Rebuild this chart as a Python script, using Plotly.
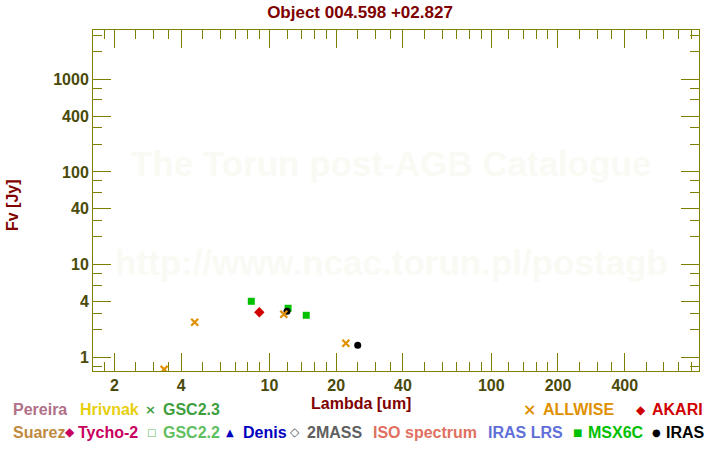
import math
import plotly.graph_objects as go

# ---- data ----
allwise_wl = [3.35, 4.6, 11.6, 22.1]
allwise_f = [0.74, 2.39, 2.91, 1.42]
msx_wl = [8.28, 12.13, 14.65]
msx_f = [4.02, 3.38, 2.84]
akari_wl = [9.0]
akari_f = [3.06]
iras_wl = [12.0, 25.0]
iras_f = [3.14, 1.35]

x_major = [2, 4, 10, 20, 40, 100, 200, 400]
x_major_labels = ["2", "4", "10", "20", "40", "100", "200", "400"]
y_major = [1, 4, 10, 40, 100, 400, 1000]
y_major_labels = ["1", "4", "10", "40", "100", "400", "1000"]

x_minor_pattern = [1.2, 1.4, 1.6, 1.8, 2.5, 3, 3.5, 5, 6, 7, 8, 9]
y_minor_pattern = [2, 3, 6, 8]

legend_row1 = [("Pereira", "#b07088"), ("Hrivnak", "#e6cf10"), ("GSC2.3", "#40a040"),
               ("ALLWISE", "#e09000"), ("AKARI", "#d00000")]
legend_row2 = [("Suarez", "#c08a40"), ("Tycho-2", "#c80060"), ("GSC2.2", "#60c060"),
               ("Denis", "#0000c0"), ("2MASS", "#606060"), ("ISO spectrum", "#e07060"),
               ("IRAS LRS", "#6070d8"), ("MSX6C", "#00c000"), ("IRAS", "#000000")]

W, H = 720, 450
L, R, T, B = 93, 699, 30, 371

x_minor = [m * 10 ** k for k in range(0, 3) for m in x_minor_pattern]
y_minor = [m * 10 ** k for k in range(-1, 4) for m in y_minor_pattern]

fig = go.Figure()
fig.add_trace(go.Scatter(x=msx_wl, y=msx_f, mode="markers", name="MSX6C",
                         marker=dict(symbol="square", size=7, color="#00c000", line=dict(width=0))))
fig.add_trace(go.Scatter(x=iras_wl, y=iras_f, mode="markers", name="IRAS",
                         marker=dict(symbol="circle", size=7, color="#000000", line=dict(width=0))))
fig.add_trace(go.Scatter(x=allwise_wl, y=allwise_f, mode="markers", name="ALLWISE",
                         marker=dict(symbol="x-thin", size=7, color="#e09000",
                                     line=dict(width=2.2, color="#e09000"))))
fig.add_trace(go.Scatter(x=akari_wl, y=akari_f, mode="markers", name="AKARI",
                         marker=dict(symbol="diamond", size=8, color="#d00000", line=dict(width=0))))

olive = "#808000"
tickfont = dict(family="Liberation Sans, Arial, sans-serif", size=16, color="#4a4a0a", weight="bold")

axis_common = dict(type="log", showgrid=False, zeroline=False, showline=True,
                   linecolor=olive, linewidth=1, mirror="allticks", ticks="inside",
                   ticklen=18, tickcolor=olive, tickwidth=1, tickfont=tickfont)

fig.update_xaxes(**axis_common, range=[math.log10(1.6), math.log10(865)],
                 tickmode="array", tickvals=x_major, ticktext=x_major_labels,
                 minor=dict(tickmode="array", tickvals=x_minor, ticks="inside",
                            ticklen=9, tickcolor=olive, tickwidth=1, showgrid=False))
fig.update_yaxes(**axis_common, range=[-0.148, 3.532],
                 tickmode="array", tickvals=y_major, ticktext=y_major_labels,
                 minor=dict(tickmode="array", tickvals=y_minor, ticks="inside",
                            ticklen=9, tickcolor=olive, tickwidth=1, showgrid=False))


def px(x):
    return (x - L) / (R - L)


def py(y):
    return (B - y) / (B - T)


bold = "Liberation Sans, Arial, sans-serif"
ann = []
# watermark
ann.append(dict(text="<b>The Torun post-AGB Catalogue</b>", x=px(391), y=py(163),
                font=dict(family=bold, size=35, color="#fafaf5")))
ann.append(dict(text="<b>http://www.ncac.torun.pl/postagb</b>", x=px(391), y=py(262),
                font=dict(family=bold, size=35, color="#fafaf5")))
# axis titles
ann.append(dict(text="<b>Lambda [um]</b>", x=px(361), y=py(404),
                font=dict(family=bold, size=16, color="#800000")))
ann.append(dict(text="<b>Fv [Jy]</b>", x=px(12), y=py(205), textangle=-90,
                font=dict(family=bold, size=16, color="#800000")))

# legend texts (left x positions in pixels)
row1_x = [11, 78, 161, 541, 650]
row2_x = [11, 76, 161, 241, 305, 371, 486, 586, 664]
for (name, col), xx in zip(legend_row1, row1_x):
    ann.append(dict(text="<b>%s</b>" % name, x=px(xx), y=py(410), xanchor="left",
                    font=dict(family=bold, size=16, color=col)))
for (name, col), xx in zip(legend_row2, row2_x):
    ann.append(dict(text="<b>%s</b>" % name, x=px(xx), y=py(432), xanchor="left",
                    font=dict(family=bold, size=16, color=col)))

# legend symbols
sym1 = [("\u00d7", "#40a040", 150, 13), ("\u00d7", "#e09000", 529, 16), ("\u25c6", "#d00000", 641, 12)]
sym2 = [("\u25c6", "#c80060", 70, 12), ("\u25a1", "#60c060", 151, 10), ("\u25b2", "#0000c0", 230, 10),
        ("\u25c7", "#606060", 295, 12), ("\u25a0", "#00c000", 577, 10), ("\u25cf", "#000000", 656, 10)]
for s, col, xx, sz in sym1:
    ann.append(dict(text="<b>%s</b>" % s, x=px(xx), y=py(410),
                    font=dict(family="DejaVu Sans", size=sz, color=col)))
for s, col, xx, sz in sym2:
    ann.append(dict(text="<b>%s</b>" % s, x=px(xx), y=py(432),
                    font=dict(family="DejaVu Sans", size=sz, color=col)))

for a in ann:
    a.setdefault("xref", "paper")
    a.setdefault("yref", "paper")
    a.setdefault("showarrow", False)
    a.setdefault("xanchor", "center")
    a.setdefault("yanchor", "middle")

fig.update_layout(
    width=W, height=H,
    margin=dict(l=L, r=W - R, t=T, b=H - B, pad=0),
    paper_bgcolor="white", plot_bgcolor="white",
    showlegend=False,
    title=dict(text="<b>Object 004.598 +02.827</b>", x=0.5, xref="container", xanchor="center",
               y=1 - 12 / H, yref="container", yanchor="middle",
               font=dict(family=bold, size=17, color="#800000")),
    annotations=ann,
)

fig.write_html("out.html")
